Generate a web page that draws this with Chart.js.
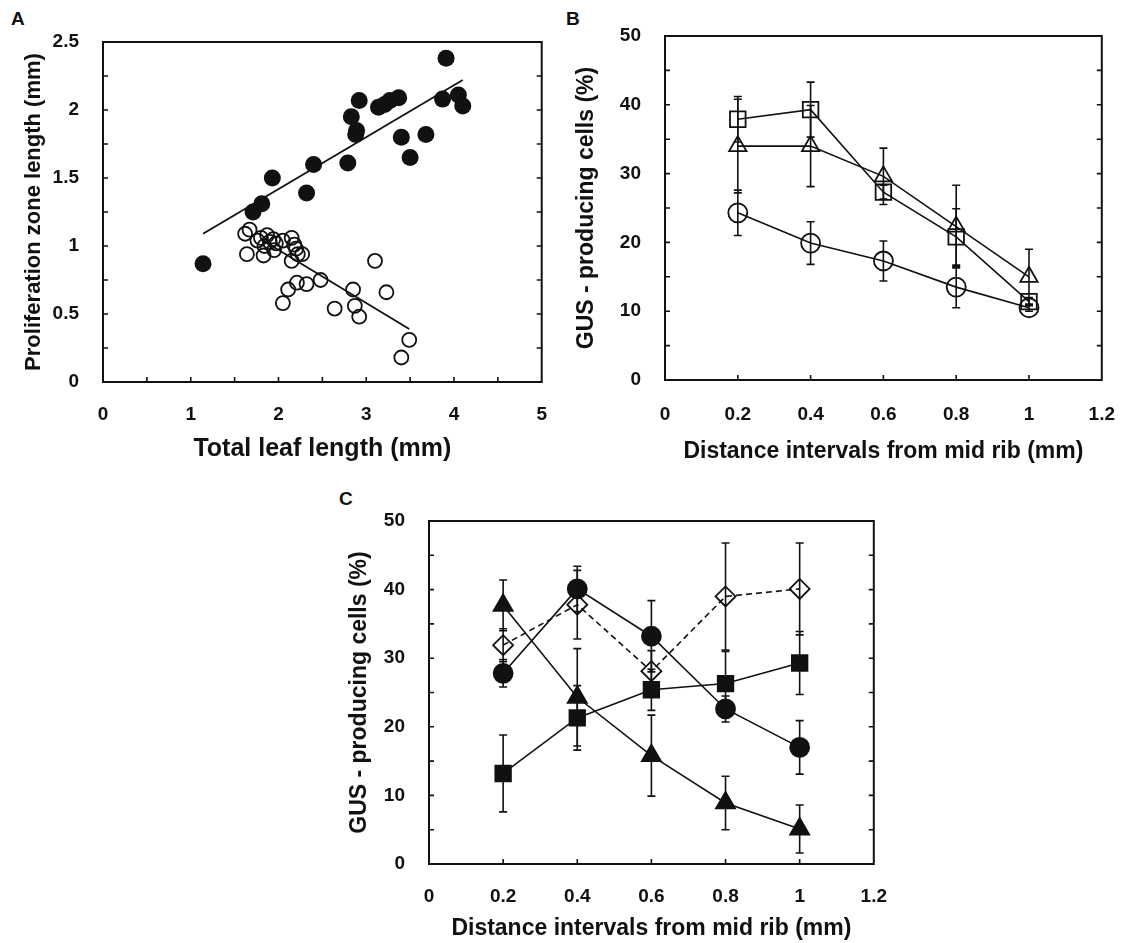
<!DOCTYPE html>
<html>
<head>
<meta charset="utf-8">
<script src="https://cdn.jsdelivr.net/npm/chart.js@4.4.1/dist/chart.umd.min.js"></script>
<style>
  body { margin: 0; background: #fff; }
  #page { position: relative; width: 1130px; height: 943px; background: #fff; overflow: hidden; }
  canvas { position: absolute; }
  .panel-tag { position: absolute; font: bold 19px "Liberation Sans", Arial, sans-serif; color: #111; }
</style>
</head>
<body>
<div id="page">
  <div class="panel-tag" style="left:11px; top:8px;">A</div>
  <div class="panel-tag" style="left:566px; top:8px;">B</div>
  <div class="panel-tag" style="left:339px; top:488px;">C</div>
  <canvas id="chartA" width="560" height="470" style="left:0px; top:0px;"></canvas>
  <canvas id="chartB" width="570" height="470" style="left:560px; top:0px;"></canvas>
  <canvas id="chartC" width="570" height="463" style="left:330px; top:480px;"></canvas>
</div>
<script>
// panel A: total leaf length vs proliferation zone length
let leafLenFilled = [1.14, 1.71, 1.81, 1.93, 2.32, 2.40, 2.79, 2.83, 2.89, 2.88, 2.92, 3.14, 3.21, 3.27, 3.37, 3.40, 3.50, 3.68, 3.91, 3.87, 4.05, 4.10];
let zoneLenFilled = [0.87, 1.25, 1.31, 1.50, 1.39, 1.60, 1.61, 1.95, 1.85, 1.82, 2.07, 2.02, 2.04, 2.07, 2.09, 1.80, 1.65, 1.82, 2.38, 2.08, 2.11, 2.03];
let leafLenOpen = [1.62, 1.67, 1.64, 1.76, 1.80, 1.84, 1.83, 1.87, 1.90, 1.94, 1.95, 1.97, 2.05, 2.15, 2.18, 2.20, 2.15, 2.27, 2.22,
                   2.48, 2.32, 2.21, 2.11, 2.05, 2.64, 2.85, 2.87, 2.92, 3.10, 3.23, 3.49, 3.40];
let zoneLenOpen = [1.09, 1.12, 0.94, 1.04, 1.06, 1.00, 0.93, 1.08, 1.03, 1.05, 0.97, 1.02, 1.04, 1.06, 1.01, 0.98, 0.89, 0.94, 0.94,
                   0.75, 0.72, 0.73, 0.68, 0.58, 0.54, 0.68, 0.56, 0.48, 0.89, 0.66, 0.31, 0.18];
let fitFilledX = [1.14, 4.10];
let fitFilledY = [1.09, 2.22];
let fitOpenX = [1.85, 3.49];
let fitOpenY = [1.03, 0.39];

// panels B and C: distance from mid rib
let distance = [0.2, 0.4, 0.6, 0.8, 1.0];

let bSquare = [37.9, 39.3, 27.3, 20.8, 11.4];
let bSquareErr = [3.3, 4.0, 1.0, 4.1, 0.6];
let bTriangle = [34.0, 34.0, 29.6, 22.3, 15.0];
let bTriangleErr = [6.8, 5.9, 4.1, 6.0, 4.0];
let bCircle = [24.3, 19.9, 17.3, 13.5, 10.5];
let bCircleErr = [3.3, 3.1, 2.9, 3.0, 0.5];

let cCircle = [27.8, 40.1, 33.2, 22.6, 17.0];
let cCircleErr = [2.0, 3.3, 5.2, 1.9, 3.9];
let cTriangle = [37.7, 24.3, 15.8, 8.9, 5.1];
let cTriangleErr = [3.7, 7.1, 5.9, 3.9, 3.5];
let cSquare = [13.2, 21.3, 25.4, 26.3, 29.3];
let cSquareErr = [5.6, 4.7, 3.0, 4.7, 4.6];
let cDiamond = [31.9, 37.8, 28.1, 39.0, 40.1];
let cDiamondErr = [2.4, 5.0, 3.0, 7.8, 6.7];

const FONT = "'Liberation Sans', Arial, Helvetica, sans-serif";
const INK = "#111";

const toPoints = (xs, ys) => xs.map((x, i) => ({ x: x, y: ys[i] }));
const fmt = (v) => String(Math.round(v * 100) / 100);

// error bars, drawn under the markers
const errorBars = {
  id: "errorBars",
  beforeDatasetsDraw(chart) {
    const ctx = chart.ctx;
    const xs = chart.scales.x;
    const ys = chart.scales.y;
    ctx.save();
    ctx.strokeStyle = INK;
    ctx.lineWidth = 1.6;
    chart.data.datasets.forEach((ds) => {
      if (!ds.errors) return;
      ds.data.forEach((p, i) => {
        const e = ds.errors[i];
        const px = xs.getPixelForValue(p.x);
        const top = ys.getPixelForValue(p.y + e);
        const bot = ys.getPixelForValue(p.y - e);
        ctx.beginPath();
        ctx.moveTo(px, top);
        ctx.lineTo(px, bot);
        ctx.moveTo(px - 4, top);
        ctx.lineTo(px + 4, top);
        ctx.moveTo(px - 4, bot);
        ctx.lineTo(px + 4, bot);
        ctx.stroke();
      });
    });
    ctx.restore();
  },
};

// box round the plot and inward tick marks
const frameTicks = {
  id: "frameTicks",
  afterDraw(chart, args, opts) {
    const ctx = chart.ctx;
    const a = chart.chartArea;
    const xs = chart.scales.x;
    const ys = chart.scales.y;
    ctx.save();
    ctx.strokeStyle = INK;
    ctx.lineWidth = 2;
    ctx.strokeRect(a.left, a.top, a.right - a.left, a.bottom - a.top);
    ctx.lineWidth = 1.6;
    ctx.beginPath();
    for (let v = xs.min + opts.xStep; v < xs.max - 1e-9; v += opts.xStep) {
      const px = xs.getPixelForValue(v);
      ctx.moveTo(px, a.bottom);
      ctx.lineTo(px, a.bottom - 5);
    }
    for (let v = ys.min + opts.yStep; v < ys.max - 1e-9; v += opts.yStep) {
      const py = ys.getPixelForValue(v);
      ctx.moveTo(a.left, py);
      ctx.lineTo(a.left + 5, py);
      ctx.moveTo(a.right, py);
      ctx.lineTo(a.right - 5, py);
    }
    ctx.stroke();
    ctx.restore();
  },
};

const makeScales = (cfg) => ({
  x: {
    type: "linear",
    min: cfg.xMin,
    max: cfg.xMax,
    grid: { display: false },
    border: { display: false },
    afterFit: (s) => { s.height = cfg.xHeight; },
    ticks: { stepSize: cfg.xStepLabel, padding: cfg.xPad, color: INK, font: { family: FONT, size: 19, weight: "bold" }, callback: fmt, maxRotation: 0 },
    title: { display: true, text: cfg.xTitle, color: INK, padding: { top: 0, bottom: cfg.xTitlePad }, font: { family: FONT, size: cfg.xTitleSize, weight: "bold" } },
  },
  y: {
    type: "linear",
    min: cfg.yMin,
    max: cfg.yMax,
    grid: { display: false },
    border: { display: false },
    afterFit: (s) => { s.width = cfg.yWidth; },
    ticks: { stepSize: cfg.yStepLabel, padding: 16, color: INK, font: { family: FONT, size: 19, weight: "bold" }, callback: fmt },
    title: { display: true, text: cfg.yTitle, color: INK, padding: { top: cfg.yTitlePad, bottom: 0 }, font: { family: FONT, size: cfg.yTitleSize, weight: "bold" } },
  },
});

const baseOptions = (cfg) => ({
  responsive: false,
  animation: false,
  devicePixelRatio: 1,
  layout: { padding: cfg.padding },
  plugins: {
    legend: { display: false },
    tooltip: { enabled: false },
    frameTicks: { xStep: cfg.xTick, yStep: cfg.yTick },
  },
  scales: makeScales(cfg),
});

const markerSet = (ys, errs, style, radius, filled, dashed) => ({
  type: "line",
  data: toPoints(distance, ys),
  errors: errs,
  borderColor: INK,
  borderWidth: 1.6,
  borderDash: dashed ? [6, 4] : [],
  pointStyle: style,
  pointRadius: radius,
  pointBorderWidth: 1.8,
  pointBorderColor: INK,
  pointBackgroundColor: filled ? INK : "rgba(0,0,0,0)",
  fill: false,
  tension: 0,
});

// panel A
new Chart(document.getElementById("chartA"), {
  type: "scatter",
  data: {
    datasets: [
      { type: "line", data: toPoints(fitFilledX, fitFilledY), borderColor: INK, borderWidth: 1.8, pointRadius: 0, fill: false },
      { type: "line", data: toPoints(fitOpenX, fitOpenY), borderColor: INK, borderWidth: 1.8, pointRadius: 0, fill: false },
      { data: toPoints(leafLenOpen, zoneLenOpen), pointStyle: "circle", pointRadius: 7, pointBorderWidth: 1.8, pointBorderColor: INK, pointBackgroundColor: "rgba(0,0,0,0)" },
      { data: toPoints(leafLenFilled, zoneLenFilled), pointStyle: "circle", pointRadius: 8.5, pointBorderWidth: 0, pointBackgroundColor: INK },
    ],
  },
  options: baseOptions({
    padding: { top: 42, right: 10, left: 0, bottom: 0 },
    xMin: 0, xMax: 5, xStepLabel: 1, xTick: 0.5, xHeight: 88, xPad: 13,
    yMin: 0, yMax: 2.5, yStepLabel: 0.5, yTick: 0.25, yWidth: 103,
    xTitle: "Total leaf length (mm)", xTitlePad: 6, xTitleSize: 25,
    yTitle: "Proliferation zone length (mm)", yTitlePad: 21, yTitleSize: 22,
  }),
  plugins: [frameTicks],
});

// panel B
new Chart(document.getElementById("chartB"), {
  type: "line",
  data: {
    datasets: [
      markerSet(bSquare, bSquareErr, "rect", 11, false, false),
      markerSet(bTriangle, bTriangleErr, "triangle", 10, false, false),
      markerSet(bCircle, bCircleErr, "circle", 9.5, false, false),
    ],
  },
  options: baseOptions({
    padding: { top: 36, right: 18, left: 0, bottom: 0 },
    xMin: 0, xMax: 1.2, xStepLabel: 0.2, xTick: 0.2, xHeight: 90, xPad: 15,
    yMin: 0, yMax: 50, yStepLabel: 10, yTick: 5, yWidth: 105,
    xTitle: "Distance intervals from mid rib (mm)", xTitlePad: 5, xTitleSize: 23,
    yTitle: "GUS - producing cells (%)", yTitlePad: 13, yTitleSize: 23,
  }),
  plugins: [errorBars, frameTicks],
});

// panel C
new Chart(document.getElementById("chartC"), {
  type: "line",
  data: {
    datasets: [
      markerSet(cDiamond, cDiamondErr, "rectRot", 10, false, true),
      markerSet(cSquare, cSquareErr, "rect", 11, true, false),
      markerSet(cTriangle, cTriangleErr, "triangle", 11, true, false),
      markerSet(cCircle, cCircleErr, "circle", 9.5, true, false),
    ],
  },
  options: baseOptions({
    padding: { top: 41, right: 23, left: 0, bottom: 0 },
    xMin: 0, xMax: 1.2, xStepLabel: 0.2, xTick: 0.2, xHeight: 79, xPad: 13,
    yMin: 0, yMax: 50, yStepLabel: 10, yTick: 5, yWidth: 99,
    xTitle: "Distance intervals from mid rib (mm)", xTitlePad: 1, xTitleSize: 23,
    yTitle: "GUS - producing cells (%)", yTitlePad: 16, yTitleSize: 23,
  }),
  plugins: [errorBars, frameTicks],
});
</script>
</body>
</html>
